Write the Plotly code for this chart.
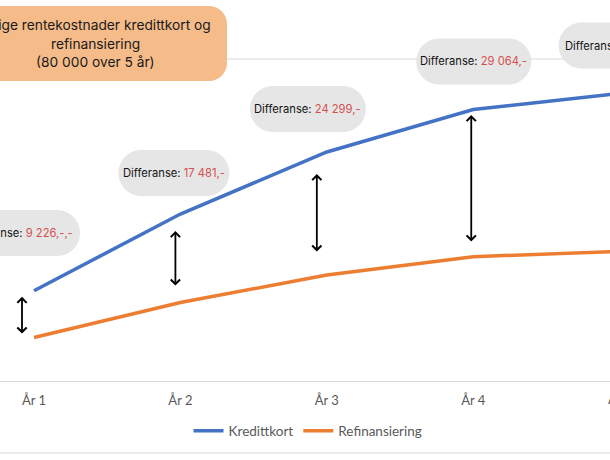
import plotly.graph_objects as go

# ---------------- data ----------------
years = ["År 1", "År 2", "År 3", "År 4", "År 5"]
kredittkort = [17830, 32980, 45230, 53620, 56820]
refinansiering = [8604, 15499, 20931, 24556, 25620]
differanse_labels = ["9 226,-,-", "17 481,-", "24 299,-", "29 064,-", "31 200,-"]
title_lines = ["Årlige rentekostnader kredittkort og", "refinansiering", "(80 000 over 5 år)"]

# ---------------- layout constants ----------------
W, H = 610, 460
M_T, M_B = 59, 79
PLOT_H = H - M_T - M_B
X_RANGE = [0.7678, 4.934]
Y_RANGE = [0, 63600]
PX_PER_X = W / (X_RANGE[1] - X_RANGE[0])
KR_PER_PX = (Y_RANGE[1] - Y_RANGE[0]) / PLOT_H

BLUE = "#4472c4"
ORANGE = "#ed7d31"
GREY_TXT = "#595959"
AX_GREY = "#d9d9d9"
PILL = "#e7e6e6"
RED = "#d64f4f"
TITLE_FILL = "#f5bc8a"

# box placement (pixel offsets from each year position / pixel centres)
box_dx = [-15, -6.5, -19, 0.5, -3]
box_cy = [233, 173, 109, 61.5, 45.5]
box_w = [122, 111, 116, 115, 116]
box_h = 46
# arrows (pixel offsets)
arrow_dx = [-12, -5, -10, -2]
arrow_gap_top = [6, 17, 22, 5.5]
arrow_gap_bot = [2.4, 15.5, 22, 13.7]

xi = list(range(1, len(years) + 1))


def year_px(i):
    return (xi[i] - X_RANGE[0]) * PX_PER_X


def pxx(p):
    return p / W


def pxy(p):
    return (H - M_B - p) / PLOT_H


def rounded_path(x0, y0, x1, y1, r):
    k = 0.5523 * r
    def P(x, y):
        return f"{pxx(x):.5f},{pxy(y):.5f}"
    d = f"M {P(x0 + r, y0)} L {P(x1 - r, y0)} "
    d += f"C {P(x1 - r + k, y0)} {P(x1, y0 + r - k)} {P(x1, y0 + r)} "
    d += f"L {P(x1, y1 - r)} "
    d += f"C {P(x1, y1 - r + k)} {P(x1 - r + k, y1)} {P(x1 - r, y1)} "
    d += f"L {P(x0 + r, y1)} "
    d += f"C {P(x0 + r - k, y1)} {P(x0, y1 - r + k)} {P(x0, y1 - r)} "
    d += f"L {P(x0, y0 + r)} "
    d += f"C {P(x0, y0 + r - k)} {P(x0 + r - k, y0)} {P(x0 + r, y0)} Z"
    return d


fig = go.Figure()
fig.add_trace(go.Scatter(x=xi, y=kredittkort, name="Kredittkort", mode="lines",
                         line=dict(color=BLUE, width=3.5)))
fig.add_trace(go.Scatter(x=xi, y=refinansiering, name="Refinansiering", mode="lines",
                         line=dict(color=ORANGE, width=3.5)))

shapes = []
annotations = []

# top gridline and bottom border
shapes.append(dict(type="line", xref="paper", yref="paper", x0=0, x1=1, y0=1, y1=1,
                   line=dict(color=AX_GREY, width=1.2), layer="below"))
shapes.append(dict(type="line", xref="paper", yref="paper", x0=0, x1=1,
                   y0=pxy(453), y1=pxy(453), line=dict(color=AX_GREY, width=1.2), layer="below"))

# title box
shapes.append(dict(type="path", xref="paper", yref="paper",
                   path=rounded_path(-40, 6, 227, 81, 18),
                   fillcolor=TITLE_FILL, line=dict(width=0), layer="above"))
for line_txt, cy in zip(title_lines, [25, 44, 62]):
    annotations.append(dict(xref="paper", yref="paper", x=pxx(95), y=pxy(cy),
                            text=line_txt, showarrow=False, xanchor="center", yanchor="middle",
                            font=dict(family="Inter", size=13.75, color="#1a1a1a")))

# difference pills
for i, lab in enumerate(differanse_labels):
    cx = year_px(i) + box_dx[i]
    cy = box_cy[i]
    w = box_w[i]
    shapes.append(dict(type="path", xref="paper", yref="paper",
                       path=rounded_path(cx - w / 2, cy - box_h / 2, cx + w / 2, cy + box_h / 2, box_h / 2),
                       fillcolor=PILL, line=dict(width=0), layer="above"))
    annotations.append(dict(xref="paper", yref="paper", x=pxx(cx), y=pxy(cy),
                            text=f"Differanse: <span style='color:{RED}'>{lab}</span>",
                            showarrow=False, xanchor="center", yanchor="middle",
                            font=dict(family="Inter", size=11.2, color="#141414")))

# double arrows
for i in range(len(arrow_dx)):
    ax_x = xi[i] + arrow_dx[i] / PX_PER_X
    top = kredittkort[i] - arrow_gap_top[i] * KR_PER_PX
    bot = refinansiering[i] + arrow_gap_bot[i] * KR_PER_PX
    annotations.append(dict(xref="x", yref="y", x=ax_x, y=top, axref="x", ayref="y",
                            ax=ax_x, ay=bot, text="", showarrow=True,
                            arrowside="end+start", arrowhead=4, startarrowhead=4,
                            arrowsize=1, startarrowsize=1, arrowwidth=1.8,
                            arrowcolor="black", standoff=0, startstandoff=0))

# År 5 label (outside plotted range, partly visible)
annotations.append(dict(xref="paper", yref="paper", x=pxx(year_px(4)), y=pxy(399),
                        text=years[4], showarrow=False, xanchor="center", yanchor="middle",
                        font=dict(family="Lato", size=13, color=GREY_TXT)))

fig.update_layout(
    width=W, height=H,
    margin=dict(l=0, r=0, t=M_T, b=M_B, pad=0),
    paper_bgcolor="white", plot_bgcolor="white",
    showlegend=True,
    legend=dict(orientation="h", x=0.505, xanchor="center", y=pxy(431), yanchor="middle",
                font=dict(family="Lato", size=13.5, color=GREY_TXT),
                itemwidth=30, bgcolor="rgba(0,0,0,0)"),
    xaxis=dict(range=X_RANGE, tickvals=xi[:4], ticktext=years[:4],
               showgrid=False, zeroline=False, showline=True, linecolor=AX_GREY, linewidth=1.2,
               ticks="", ticklabelstandoff=7,
               tickfont=dict(family="Lato", size=13, color=GREY_TXT), fixedrange=True),
    yaxis=dict(range=Y_RANGE, showgrid=False, zeroline=False, showticklabels=False,
               showline=False, fixedrange=True),
    shapes=shapes,
    annotations=annotations,
)

fig.write_html("out.html", config={"displayModeBar": False},
               post_script="document.body.style.margin='0';document.body.style.overflow='hidden';")
